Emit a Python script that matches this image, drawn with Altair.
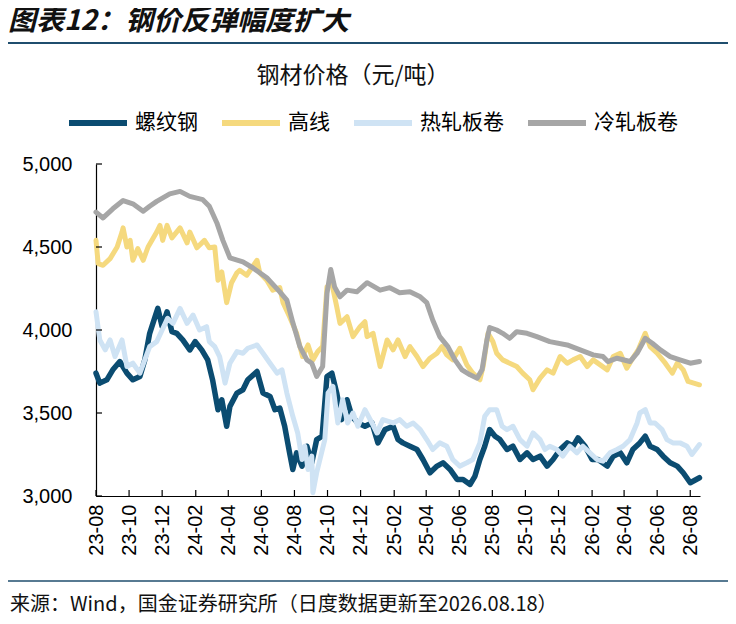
import pandas as pd
import altair as alt

# 螺纹钢
rebar_dates = ['2023-08-01', '2023-08-08', '2023-08-21', '2023-09-01', '2023-09-14', '2023-09-27',
               '2023-10-08', '2023-10-21', '2023-10-30', '2023-11-08', '2023-11-18', '2023-11-23',
               '2023-12-01', '2023-12-10', '2023-12-19', '2023-12-28', '2024-01-08', '2024-01-21',
               '2024-01-31', '2024-02-12', '2024-02-23', '2024-03-03', '2024-03-13', '2024-03-20',
               '2024-03-29', '2024-04-04', '2024-04-17', '2024-04-28', '2024-05-07', '2024-05-24',
               '2024-06-04', '2024-06-17', '2024-06-26', '2024-07-05', '2024-07-14', '2024-07-23',
               '2024-07-29', '2024-08-05', '2024-08-15', '2024-08-24', '2024-09-02', '2024-09-11',
               '2024-09-21', '2024-09-30', '2024-10-09', '2024-10-18', '2024-10-27', '2024-11-06',
               '2024-11-15', '2024-11-26', '2024-12-09', '2024-12-22', '2025-01-02', '2025-01-15',
               '2025-01-30', '2025-02-08', '2025-02-17', '2025-03-02', '2025-03-15', '2025-03-26',
               '2025-04-08', '2025-04-21', '2025-05-02', '2025-05-15', '2025-05-28', '2025-06-08',
               '2025-06-21', '2025-06-30', '2025-07-09', '2025-07-18', '2025-07-27', '2025-08-06',
               '2025-08-15', '2025-08-28', '2025-09-08', '2025-09-21', '2025-10-04', '2025-10-15',
               '2025-10-28', '2025-11-10', '2025-11-21', '2025-12-04', '2025-12-17', '2025-12-28',
               '2026-01-06', '2026-01-19', '2026-02-01', '2026-02-12', '2026-03-01', '2026-03-12',
               '2026-03-25', '2026-04-06', '2026-04-17', '2026-04-30', '2026-05-10', '2026-05-19',
               '2026-06-01', '2026-06-12', '2026-06-25', '2026-07-08', '2026-07-19', '2026-08-01',
               '2026-08-18']
rebar_vals = [3740, 3680, 3700, 3760, 3810, 3740,
              3700, 3720, 3820, 3980, 4080, 4130,
              4020, 4110, 3990, 3980, 3940, 3880,
              3930, 3880, 3820, 3700, 3520, 3580,
              3420, 3540, 3620, 3640, 3700, 3750,
              3620, 3600, 3520, 3530, 3420, 3260,
              3160, 3260, 3180, 3300, 3200, 3340,
              3360, 3720, 3740, 3620, 3460, 3580,
              3480, 3440, 3420, 3440, 3320, 3400,
              3420, 3340, 3320, 3300, 3280, 3220,
              3140, 3180, 3200, 3160, 3100, 3100,
              3070, 3120, 3220, 3300, 3400, 3360,
              3340, 3280, 3300, 3220, 3260, 3220,
              3240, 3180, 3220, 3280, 3320, 3300,
              3350, 3300, 3220, 3220, 3180, 3240,
              3260, 3200, 3280, 3320, 3360, 3300,
              3280, 3240, 3200, 3180, 3140, 3080,
              3110]

# 高线
wire_dates = ['2023-08-01', '2023-08-05', '2023-08-14', '2023-08-27', '2023-09-09', '2023-09-18',
              '2023-09-20', '2023-09-27', '2023-10-03', '2023-10-08', '2023-10-17', '2023-10-27',
              '2023-11-05', '2023-11-21', '2023-11-27', '2023-12-02', '2023-12-10', '2023-12-19',
              '2024-01-03', '2024-01-16', '2024-01-21', '2024-02-03', '2024-02-17', '2024-02-26',
              '2024-03-07', '2024-03-13', '2024-03-20', '2024-03-29', '2024-04-07', '2024-04-17',
              '2024-04-22', '2024-05-05', '2024-05-24', '2024-05-29', '2024-06-11', '2024-06-22',
              '2024-07-05', '2024-07-11', '2024-07-23', '2024-08-05', '2024-08-16', '2024-08-26',
              '2024-09-04', '2024-09-13', '2024-09-22', '2024-09-30', '2024-10-09', '2024-10-18',
              '2024-10-24', '2024-11-06', '2024-11-17', '2024-11-30', '2024-12-09', '2024-12-13',
              '2024-12-24', '2025-01-06', '2025-01-19', '2025-01-30', '2025-02-08', '2025-02-21',
              '2025-03-02', '2025-03-15', '2025-03-26', '2025-04-08', '2025-04-21', '2025-04-30',
              '2025-05-09', '2025-05-20', '2025-06-02', '2025-06-15', '2025-06-26', '2025-07-09',
              '2025-07-15', '2025-07-24', '2025-08-02', '2025-08-09', '2025-08-20', '2025-09-02',
              '2025-09-15', '2025-09-26', '2025-10-09', '2025-10-15', '2025-10-28', '2025-11-10',
              '2025-11-21', '2025-12-04', '2025-12-17', '2025-12-28', '2026-01-10', '2026-01-23',
              '2026-02-03', '2026-02-16', '2026-03-01', '2026-03-12', '2026-03-25', '2026-04-06',
              '2026-04-15', '2026-04-27', '2026-05-10', '2026-05-19', '2026-06-01', '2026-06-16',
              '2026-06-29', '2026-07-08', '2026-07-19', '2026-07-28', '2026-08-18']
wire_vals = [4540, 4400, 4390, 4430, 4500, 4590,
             4615, 4500, 4540, 4420, 4490, 4420,
             4500, 4590, 4630, 4540, 4630, 4555,
             4615, 4525, 4590, 4495, 4540, 4495,
             4500, 4300, 4350, 4165, 4285, 4345,
             4360, 4330, 4420, 4345, 4300, 4240,
             4255, 4165, 4080, 3980, 3840, 3910,
             3820, 3870, 3900, 4260, 4280, 4140,
             4040, 4080, 3960, 4020, 4050, 3960,
             3980, 3780, 3940, 3880, 3940, 3840,
             3900, 3840, 3780, 3830, 3860, 3900,
             3850, 3820, 3890, 3790, 3740, 3700,
             3780, 3980, 3930, 3860, 3820, 3800,
             3780, 3740, 3700, 3640, 3710, 3760,
             3740, 3840, 3800, 3820, 3840, 3780,
             3820, 3790, 3760, 3840, 3860, 3770,
             3820, 3880, 3980, 3900, 3860, 3800,
             3740, 3800, 3760, 3690, 3670]

# 热轧板卷
hrc_dates = ['2023-08-01', '2023-08-08', '2023-08-18', '2023-08-27', '2023-09-05', '2023-09-18',
             '2023-09-27', '2023-10-08', '2023-10-21', '2023-10-30', '2023-11-08', '2023-11-21',
             '2023-12-01', '2023-12-11', '2023-12-21', '2024-01-03', '2024-01-16', '2024-01-27',
             '2024-02-08', '2024-02-21', '2024-02-26', '2024-03-07', '2024-03-16', '2024-03-26',
             '2024-04-04', '2024-04-17', '2024-04-28', '2024-05-07', '2024-05-24', '2024-06-04',
             '2024-06-17', '2024-06-30', '2024-07-09', '2024-07-18', '2024-07-29', '2024-08-07',
             '2024-08-15', '2024-08-20', '2024-08-26', '2024-09-02', '2024-09-04', '2024-09-11',
             '2024-09-17', '2024-09-26', '2024-10-02', '2024-10-11', '2024-10-20', '2024-10-29',
             '2024-11-07', '2024-11-17', '2024-11-26', '2024-12-09', '2024-12-22', '2024-12-31',
             '2025-01-11', '2025-01-30', '2025-02-11', '2025-02-24', '2025-03-08', '2025-03-21',
             '2025-04-02', '2025-04-13', '2025-04-26', '2025-05-09', '2025-05-20', '2025-06-02',
             '2025-06-15', '2025-06-26', '2025-07-09', '2025-07-18', '2025-07-27', '2025-08-09',
             '2025-08-19', '2025-08-28', '2025-09-08', '2025-09-21', '2025-10-04', '2025-10-15',
             '2025-10-28', '2025-11-06', '2025-11-15', '2025-11-28', '2025-12-09', '2025-12-22',
             '2026-01-04', '2026-01-15', '2026-01-28', '2026-02-10', '2026-02-21', '2026-03-06',
             '2026-03-19', '2026-03-30', '2026-04-12', '2026-04-25', '2026-04-30', '2026-05-10',
             '2026-05-19', '2026-05-28', '2026-06-10', '2026-06-19', '2026-06-30', '2026-07-13',
             '2026-07-26', '2026-08-04', '2026-08-18']
hrc_vals = [4110, 3940, 3880, 3940, 3840, 3940,
            3780, 3800, 3740, 3820, 3900, 3930,
            4000, 4070, 4040, 4130, 4040, 4090,
            4000, 4020, 3930, 3900, 3840, 3680,
            3800, 3870, 3860, 3890, 3910, 3860,
            3800, 3740, 3760, 3620, 3480, 3380,
            3220, 3300, 3160, 3240, 3020, 3140,
            3220, 3340, 3620, 3660, 3440, 3580,
            3440, 3500, 3420, 3520, 3440, 3380,
            3460, 3440, 3460, 3420, 3440, 3400,
            3340, 3280, 3320, 3300, 3220, 3180,
            3200, 3220, 3320, 3480, 3520, 3520,
            3420, 3400, 3420, 3340, 3300, 3380,
            3340, 3280, 3300, 3280, 3240, 3300,
            3260, 3300, 3260, 3220, 3210, 3260,
            3280, 3300, 3340, 3440, 3500, 3520,
            3440, 3440, 3400, 3340, 3320, 3320,
            3300, 3250, 3310]

# 冷轧板卷
crc_dates = ['2023-08-01', '2023-08-14', '2023-09-01', '2023-09-20', '2023-10-08', '2023-10-27',
             '2023-11-08', '2023-11-21', '2023-12-15', '2024-01-03', '2024-01-21', '2024-02-14',
             '2024-02-26', '2024-03-11', '2024-03-22', '2024-04-04', '2024-04-28', '2024-05-16',
             '2024-06-11', '2024-07-05', '2024-07-18', '2024-07-29', '2024-08-11', '2024-08-24',
             '2024-09-02', '2024-09-11', '2024-09-22', '2024-09-30', '2024-10-07', '2024-10-14',
             '2024-10-24', '2024-11-06', '2024-11-24', '2024-12-13', '2025-01-06', '2025-01-24',
             '2025-02-11', '2025-03-02', '2025-03-21', '2025-04-02', '2025-04-13', '2025-04-26',
             '2025-05-11', '2025-05-24', '2025-06-06', '2025-06-21', '2025-07-04', '2025-07-13',
             '2025-07-22', '2025-07-27', '2025-08-09', '2025-08-20', '2025-09-02', '2025-09-15',
             '2025-10-04', '2025-10-22', '2025-11-15', '2025-12-17', '2026-01-10', '2026-02-03',
             '2026-02-21', '2026-03-02', '2026-03-19', '2026-04-12', '2026-04-25', '2026-05-10',
             '2026-05-23', '2026-06-07', '2026-06-25', '2026-07-13', '2026-08-01', '2026-08-18']
crc_vals = [4710, 4675, 4730, 4780, 4760, 4715,
            4745, 4775, 4820, 4835, 4805, 4785,
            4745, 4645, 4540, 4435, 4410, 4375,
            4315, 4230, 4180, 4045, 3900, 3820,
            3800, 3720, 3780, 4220, 4365, 4260,
            4200, 4240, 4230, 4285, 4240, 4255,
            4225, 4230, 4200, 4165, 4060, 3960,
            3900, 3820, 3760, 3730, 3710, 3760,
            3940, 4015, 4000, 3980, 3950, 3990,
            3980, 3960, 3930, 3910, 3880, 3850,
            3840, 3810, 3830, 3810, 3860, 3950,
            3920, 3880, 3840, 3820, 3800, 3810]

names = ['螺纹钢', '高线', '热轧板卷', '冷轧板卷']
colors = ['#0b4c71', '#f5d97e', '#cfe3f4', '#a6a6a6']
y_ticks = [3000, 3500, 4000, 4500, 5000]
x_ticks = ['2023-08-01', '2023-10-01', '2023-12-01', '2024-02-01', '2024-04-01', '2024-06-01',
           '2024-08-01', '2024-10-01', '2024-12-01', '2025-02-01', '2025-04-01', '2025-06-01',
           '2025-08-01', '2025-10-01', '2025-12-01', '2026-02-01', '2026-04-01', '2026-06-01',
           '2026-08-01']

frames = []
for name, d, v in zip(names, [rebar_dates, wire_dates, hrc_dates, crc_dates],
                      [rebar_vals, wire_vals, hrc_vals, crc_vals]):
    frames.append(pd.DataFrame({'series': name, 'date': pd.to_datetime(d), 'price': v}))
df = pd.concat(frames, ignore_index=True)

W, H = 604, 332
cjk = 'Noto Sans CJK SC'
num_font = 'Liberation Sans'

tick_dt = [alt.DateTime(year=int(s[:4]), month=int(s[5:7]), date=1) for s in x_ticks]

x_enc = alt.X('date:T', title=None,
              scale=alt.Scale(domain=[alt.DateTime(year=2023, month=8, date=1),
                                      alt.DateTime(year=2026, month=8, date=19)]),
              axis=alt.Axis(values=tick_dt, format='%y-%m', labelAngle=270, labelFont=num_font,
                            labelFontSize=20, labelColor='#000', labelPadding=8, ticks=False,
                            domainColor='#000', domainWidth=1.2, grid=False,
                            labelOverlap=False, labelSeparation=0))
y_enc = alt.Y('price:Q', title=None,
              scale=alt.Scale(domain=[3000, 5000], nice=False),
              axis=alt.Axis(values=y_ticks, format=',d', labelFont=num_font, labelFontSize=20,
                            labelColor='#000', labelPadding=24, ticks=False,
                            domainColor='#000', domainWidth=1.2, grid=False))
color_enc = alt.Color('series:N', scale=alt.Scale(domain=names, range=colors),
                      legend=alt.Legend(title=None, orient='none', direction='horizontal',
                                        legendX=-30, legendY=-73, symbolType='stroke',
                                        symbolSize=3364, symbolStrokeWidth=6,
                                        labelFont=cjk, labelFontSize=21, labelColor='#000',
                                        labelOffset=5, columnPadding=12, labelLimit=200))

lines = []
for name, sw in zip(names, [5.5, 5, 5, 5]):
    lines.append(alt.Chart(df).transform_filter(alt.datum.series == name)
                 .mark_line(strokeWidth=sw, strokeJoin='round', strokeCap='round')
                 .encode(x=x_enc, y=y_enc, color=color_enc))

one = pd.DataFrame({'a': [0]})

# inward ticks, drawn with the same scales and axis settings
ytick_rules = alt.Chart(pd.DataFrame({'price': y_ticks})).mark_rule(
    color='#000', strokeWidth=1.2).encode(y=y_enc, x=alt.value(0), x2=alt.value(6))
xtick_rules = alt.Chart(pd.DataFrame({'date': pd.to_datetime(x_ticks)})).mark_rule(
    color='#000', strokeWidth=1.2).encode(x=x_enc, y=alt.value(H - 6), y2=alt.value(H))

title = alt.Chart(one).mark_text(text='图表12：钢价反弹幅度扩大', font=cjk, fontSize=28,
                                 fontWeight='bold', fontStyle='italic', align='left',
                                 baseline='middle', color='#111').encode(
    x=alt.value(-88), y=alt.value(-142))
top_rule = alt.Chart(one).mark_rule(color='#1f4e6e', strokeWidth=2).encode(
    x=alt.value(-88), x2=alt.value(632), y=alt.value(-121))
subtitle = alt.Chart(one).mark_text(text='钢材价格（元/吨）', font=cjk, fontSize=23,
                                    align='center', baseline='middle', color='#111').encode(
    x=alt.value(257), y=alt.value(-88))
bottom_rule = alt.Chart(one).mark_rule(color='#1f4e6e', strokeWidth=1.5).encode(
    x=alt.value(-88), x2=alt.value(632), y=alt.value(417))
source = alt.Chart(one).mark_text(text='来源：Wind，国金证券研究所（日度数据更新至2026.08.18）',
                                  font=cjk, fontSize=20, align='left', baseline='middle',
                                  color='#111').encode(x=alt.value(-86), y=alt.value(441))

chart = alt.layer(*lines, ytick_rules, xtick_rules, title, top_rule, subtitle,
                  bottom_rule, source).properties(
    width=W, height=H,
    autosize=alt.AutoSizeParams(type='none'),
    padding={'left': 88, 'top': 156, 'right': 28, 'bottom': 120},
).configure_view(stroke=None)

chart.save("out.html", embed_options={"renderer": "svg", "actions": False})
